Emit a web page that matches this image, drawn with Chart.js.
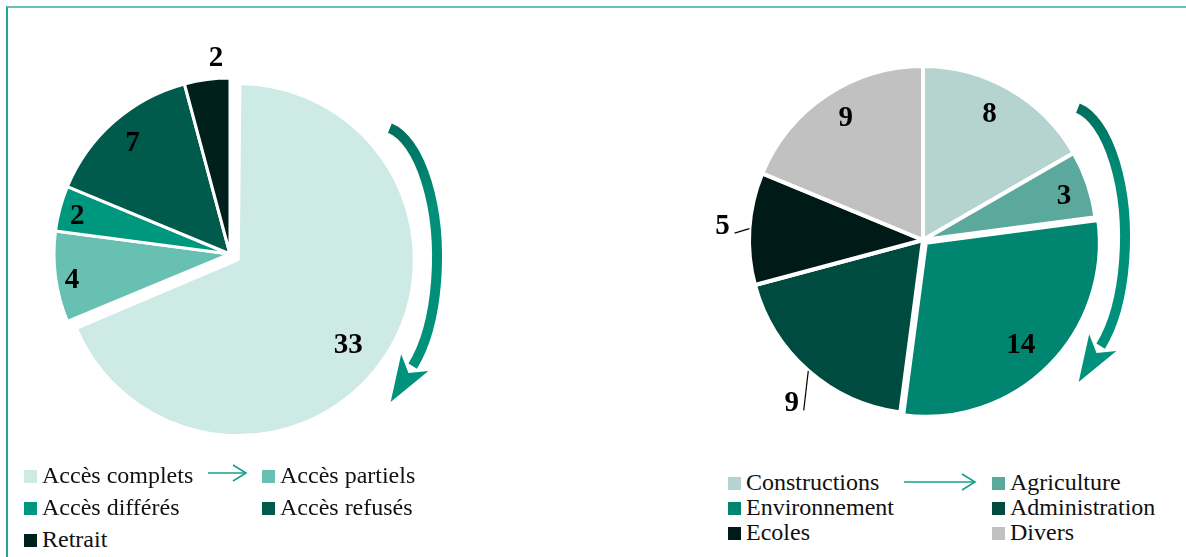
<!DOCTYPE html>
<html>
<head>
<meta charset="utf-8">
<script src="https://cdn.jsdelivr.net/npm/chart.js@4"></script>
<style>
  body { margin: 0; width: 1186px; height: 557px; background: #fff; position: relative; overflow: hidden; }
  .frame { position: absolute; left: 6px; top: 6px; width: 1300px; height: 700px;
           border-top: 2px solid #64c3b5; border-left: 2px solid #1fa690; }
  .wrap { position: absolute; }
  .item { position: absolute; font-family: "Liberation Serif", "Times New Roman", serif;
          font-size: 24px; line-height: 24px; color: #111; white-space: nowrap; }
  .item span { position: absolute; width: 13px; height: 13px; left: 0; top: 7px; }
  .item em { font-style: normal; position: absolute; top: 0; left: 18px;
             font-family: "Liberation Serif", "Times New Roman", serif; }
  svg { position: absolute; left: 0; top: 0; }
</style>
</head>
<body>
<div class="frame"></div>
<div class="wrap" style="left:20px;top:44px;width:460px;height:420px"><canvas id="leftPie"></canvas></div>
<div class="wrap" style="left:713px;top:30px;width:460px;height:420px"><canvas id="rightPie"></canvas></div>
<div id="legends"></div>
<svg width="1186" height="557">
  <g stroke="#17a08a" stroke-width="1.6" fill="none">
    <line x1="208" y1="473" x2="246" y2="473"/>
    <polyline points="233,465 246,473 233,481"/>
    <line x1="904" y1="482" x2="975" y2="482"/>
    <polyline points="962,474 975,482 962,490"/>
  </g>
</svg>
<script>
// données
const leftLabels = ['Accès complets', 'Accès partiels', 'Accès différés', 'Accès refusés', 'Retrait'];
const leftValues = [33, 4, 2, 7, 2];
const rightLabels = ['Constructions', 'Agriculture', 'Environnement', 'Administration', 'Ecoles', 'Divers'];
const rightValues = [8, 3, 14, 9, 5, 9];

const leftColors = ['#cdeae5', '#67c0b2', '#00977f', '#005b4d', '#00201b'];
const rightColors = ['#b5d3cf', '#5ba99c', '#008571', '#004b40', '#001b17', '#c1c1c1'];

// la part détachée garde le même rayon que les autres
const keepRadius = {
  id: 'keepRadius',
  afterDatasetUpdate(chart) {
    const meta = chart.getDatasetMeta(0);
    meta.data.forEach(arc => {
      const off = (arc.options.offset || 0) / 4;
      const circ = arc.endAngle - arc.startAngle;
      const fix = 1 - Math.sin(Math.min(Math.PI, circ));
      arc.outerRadius -= off * fix;
    });
  }
};

// Etiquettes des valeurs
const pieLabels = {
  id: 'pieLabels',
  afterDatasetsDraw(chart, args, opts) {
    const ctx = chart.ctx;
    const meta = chart.getDatasetMeta(0);
    const R = meta.controller.outerRadius;
    const values = chart.data.datasets[0].data;
    ctx.save();
    ctx.font = 'bold 29px "Liberation Serif", serif';
    ctx.fillStyle = '#000';
    ctx.strokeStyle = '#000';
    ctx.lineWidth = 1.2;
    ctx.textAlign = 'center';
    ctx.textBaseline = 'middle';
    meta.data.forEach((arc, i) => {
      const mid = (arc.startAngle + arc.endAngle) / 2;
      const off = (arc.options.offset || 0) / 4;
      const cx = arc.x + Math.cos(mid) * off;
      const cy = arc.y + Math.sin(mid) * off;
      const a = mid + opts.shift[i] * Math.PI / 180;
      const r = R * opts.radius[i];
      const lx = cx + Math.cos(a) * r;
      const ly = cy + Math.sin(a) * r;
      if (opts.leader && opts.leader[i]) {
        ctx.beginPath();
        ctx.moveTo(cx + Math.cos(mid) * R, cy + Math.sin(mid) * R);
        ctx.lineTo(lx + 12, ly + 8);
        ctx.stroke();
      }
      ctx.fillText(String(values[i]), lx, ly + 1);
    });
    ctx.restore();
  }
};

// Flèche courbe à droite du camembert
const curvedArrow = {
  id: 'curvedArrow',
  afterDraw(chart, args, o) {
    const ctx = chart.ctx;
    ctx.save();
    const g = ctx.createLinearGradient(0, o.y - o.ry, 0, o.y + o.ry);
    g.addColorStop(0, '#006f5e');
    g.addColorStop(0.3, '#008f79');
    g.addColorStop(1, '#00927c');
    ctx.strokeStyle = g;
    ctx.fillStyle = '#00927c';
    ctx.lineWidth = 10;
    ctx.beginPath();
    ctx.ellipse(o.x, o.y, o.rx, o.ry, 0, o.a0 * Math.PI / 180, o.a1 * Math.PI / 180);
    ctx.stroke();
    const a = o.a1 * Math.PI / 180;
    const ex = o.x + o.rx * Math.cos(a), ey = o.y + o.ry * Math.sin(a);
    let dx = -o.rx * Math.sin(a), dy = o.ry * Math.cos(a);
    const len = Math.hypot(dx, dy); dx /= len; dy /= len;
    const nx = -dy, ny = dx;
    ctx.beginPath();
    ctx.moveTo(ex + dx * 42, ey + dy * 42);
    ctx.lineTo(ex + nx * 16 - dx * 4, ey + ny * 16 - dy * 4);
    ctx.lineTo(ex + dx * 8, ey + dy * 8);
    ctx.lineTo(ex - nx * 16 - dx * 4, ey - ny * 16 - dy * 4);
    ctx.closePath();
    ctx.fill();
    ctx.restore();
  }
};

function makePie(id, labels, values, colors, offsets, border, radius, labelOpts, arrow) {
  return new Chart(document.getElementById(id), {
    type: 'pie',
    data: {
      labels: labels,
      datasets: [{
        data: values,
        backgroundColor: colors,
        borderColor: '#ffffff',
        borderWidth: border,
        offset: offsets,
      }],
    },
    options: {
      responsive: true,
      maintainAspectRatio: false,
      animation: false,
      events: [],
      radius: radius,
      layout: { padding: { right: 40 } },
      plugins: {
        legend: { display: false },
        tooltip: { enabled: false },
        pieLabels: labelOpts,
        curvedArrow: arrow,
      },
    },
    plugins: [keepRadius, pieLabels, curvedArrow],
  });
}

makePie('leftPie', leftLabels, leftValues, leftColors, [40, 0, 0, 0, 0], 3, 176,
  { radius: [0.79, 0.91, 0.895, 0.84, 1.12], shift: [4, -1.8, -1, 0, 3.4] },
  { x: 360, y: 214, rx: 57, ry: 132, a0: -80, a1: 55 });

makePie('rightPie', rightLabels, rightValues, rightColors, [0, 0, 16, 0, 0, 0], 4, 174,
  { radius: [0.82, 0.85, 0.8, 1.2, 1.155, 0.83], shift: [-2.2, 1.2, 2, -2.3, 0.5, 1.4],
    leader: [false, false, false, true, true, false] },
  { x: 355, y: 208, rx: 57, ry: 132, a0: -80, a1: 55 });

// Légendes HTML
function makeLegend(labels, colors, xs, baselines) {
  const box = document.getElementById('legends');
  labels.forEach((lab, i) => {
    const col = i % 2, row = Math.floor(i / 2);
    const d = document.createElement('div');
    d.className = 'item';
    d.style.left = xs[col] + 'px';
    d.style.top = (baselines[row] - 20) + 'px';
    d.innerHTML = '<span style="background:' + colors[i] + '"></span><em>' + lab + '</em>';
    box.appendChild(d);
  });
}
makeLegend(leftLabels, leftColors, [24, 262], [483, 515, 547]);
makeLegend(rightLabels, rightColors, [728, 992], [490, 515, 540]);
</script>
</body>
</html>
